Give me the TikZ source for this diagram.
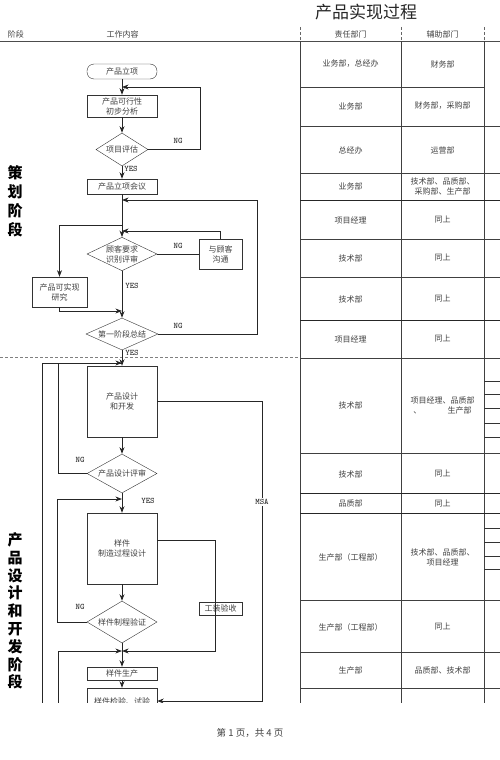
\documentclass[tikz,border=0pt]{standalone}
\usepackage{fontspec}
\newfontfamily\cjk{Noto Sans CJK SC}
\usetikzlibrary{shapes.geometric,arrows.meta}

\tikzset{
  flowbox/.style={draw=black!80, minimum width=70pt, minimum height=15pt, inner sep=1pt, align=center},
  decision/.style={draw=black!80, diamond, aspect=2, inner sep=0pt, align=center},
  lbl/.style={font=\ttfamily\bfseries\fontsize{8.5}{9}\selectfont, text=black!80, inner sep=1pt},
  cell/.style={align=center, font=\cjk\fontsize{8}{10}\selectfont},
  flow/.style={draw=black!85, line width=0.8pt},
}

\begin{document}
\begin{tikzpicture}[x=1pt, y=-1pt, >=Stealth, every node/.style={font=\cjk\fontsize{8}{10}\selectfont, text=black!75}]
  \useasboundingbox (0,0) rectangle (500,760);

  % title and header
  \node[font=\cjk\fontsize{17}{18}\selectfont, text=black!85] (title) at (366,12.5) {产品实现过程};
  \node (hstage) at (16,34) {阶段};
  \node (hwork) at (122.5,34) {工作内容};
  \node (hresp) at (350.5,34) {责任部门};
  \node (hhelp) at (442.5,34) {辅助部门};
  \node[font=\cjk\bfseries\fontsize{15}{19}\selectfont, text=black, align=center] (plan) at (15,201) {策\\划\\阶\\段};
  \node[font=\cjk\bfseries\fontsize{15}{17.8}\selectfont, text=black, align=center] (dev) at (15,611) {产\\品\\设\\计\\和\\开\\发\\阶\\段};

  \begin{scope}
  \clip (0,0) rectangle (500,702);

  % table
  \draw[black!70] (0,41) -- (500,41);
  \foreach \x in {300,401,484} {
    \draw[black!60, densely dashed] (\x,27) -- (\x,41);
    \draw[black!75] (\x,41) -- (\x,705);
  }
  \draw[black!75] (300,86.7) -- (484,86.7);
  \foreach \y in {125.7,173,239,277,358,453,600,652,688}
    \draw[black!75] (300,\y) -- (500,\y);
  \foreach \y in {200,320,493,513}
    \draw[black!85, line width=1pt] (300,\y) -- (500,\y);
  \foreach \y in {380.7,394.3,408.3,422.7,436.7,527.7,541.7,555.7,569.3}
    \draw[black!80] (484,\y) -- (500,\y);
  \draw[black!50, densely dashed] (0,357) -- (300,357);

  \foreach \y/\a/\b in {64/{业务部，总经办}/{财务部},
                        106/{业务部}/{财务部，采购部},
                        150/{总经办}/{运营部},
                        186.5/{业务部}/{技术部、品质部、\\采购部、生产部},
                        220/{项目经理}/{同上},
                        258/{技术部}/{同上},
                        299/{技术部}/{同上},
                        339/{项目经理}/{同上},
                        405/{技术部}/{项目经理、品质部\\、\hspace{3.3em}生产部},
                        474/{技术部}/{同上},
                        503.5/{品质部}/{同上},
                        557/{生产部（工程部）}/{技术部、品质部、\\项目经理},
                        627/{生产部（工程部）}/{同上},
                        670/{生产部}/{品质部、技术部}} {
    \node[cell] at (350.5,\y) {\a};
    \node[cell] at (442.5,\y) {\b};
  }

  % flow chart
  \node[flowbox, rounded corners=7pt] (start) at (122,71.5) {产品立项};
  \node[flowbox, minimum height=22pt] (feas) at (122,106) {产品可行性\\初步分析};
  \node[decision, minimum width=52pt, minimum height=33pt] (eval) at (122,149.5) {项目评估};
  \node[flowbox] (meet) at (122,186.5) {产品立项会议};
  \node[decision, minimum width=70pt, minimum height=32pt] (cust) at (122,254) {顾客要求\\识别评审};
  \node[flowbox, minimum width=43pt, minimum height=30pt] (talk) at (220.5,254) {与顾客\\沟通};
  \node[flowbox, minimum width=55pt, minimum height=30pt] (study) at (59.5,292) {产品可实现\\研究};
  \node[decision, minimum width=72pt, minimum height=32pt] (sum) at (122,334) {第一阶段总结};
  \node[flowbox, minimum height=71pt] (design) at (122,401.5) {产品设计\\和开发};
  \node[decision, minimum width=70pt, minimum height=39pt] (drev) at (122,473.5) {产品设计评审};
  \node[flowbox, minimum height=71pt] (sdes) at (122,548.5) {样件\\制造过程设计};
  \node[decision, minimum width=70pt, minimum height=42pt] (pver) at (122,622) {样件制程验证};
  \node[flowbox, minimum height=13pt] (sprod) at (122,673.5) {样件生产};
  \node[flowbox, minimum height=26pt] (check) at (122,701) {样件检验、试验};
  \node[flowbox, minimum width=43pt, minimum height=13pt] (tool) at (220.5,608.5) {工装验收};

  \coordinate (j1) at (122,87);
  \coordinate (j2) at (122,200);
  \coordinate (j3) at (122,225);
  \coordinate (j4) at (122,231);
  \coordinate (j5) at (122,311);
  \coordinate (j6) at (122,363);
  \coordinate (j7) at (122,499);
  \coordinate (j8) at (122,651);
  \coordinate (e1) at (42,710);
  \coordinate (e2) at (58,710);

  \draw[flow, ->] (start) -- (feas);
  \draw[flow, ->] (feas) -- (eval);
  \draw[flow, ->] (eval.east) -- ++(52,0) |- (j1);
  \draw[flow, ->] (eval) -- (meet);
  \draw[flow, ->] (meet) -- (cust);
  \draw[flow] (cust) -- (talk);
  \draw[flow, ->] (talk) |- (j4);
  \draw[flow, ->] (j3) -| (study);
  \draw[flow, ->] (study) |- (j5);
  \draw[flow, ->] (cust) -- (sum);
  \draw[flow, ->] (sum.east) -- ++(99,0) |- (j2);
  \draw[flow, ->] (sum) -- (design);
  \draw[flow, ->] (e1) |- (j6);
  \draw[flow] (drev.west) -- ++(-28,0) |- (j6);
  \draw[flow, ->] (design) -- (drev);
  \draw[flow, ->] (design.east) -- ++(105,0) |- (check);
  \draw[flow, ->] (drev) -- (sdes);
  \draw[flow, ->] (pver.west) -- ++(-29,0) |- (j7);
  \draw[flow, ->] ([yshift=8.5pt]sdes.east) -- ++(58,0) |- (j8);
  \draw[flow, ->] (sdes) -- (pver);
  \draw[flow, ->] (pver) -- (sprod);
  \draw[flow, ->] (e2) |- (j8);
  \draw[flow, ->] (sprod) -- (check);

  \node[lbl] (ng1) at (178,141) {NG};
  \node[lbl] (yes1) at (131,169) {YES};
  \node[lbl] (ng2) at (178,246) {NG};
  \node[lbl] (yes2) at (132,286) {YES};
  \node[lbl] (ng3) at (178,326) {NG};
  \node[lbl] (yes3) at (132,353) {YES};
  \node[lbl] (ng4) at (80,460) {NG};
  \node[lbl] (yes4) at (148,501) {YES};
  \node[lbl, fill=white] (msa) at (262,502) {MSA};
  \node[lbl] (ng5) at (80,607) {NG};
  \end{scope}

  \node[font=\cjk\fontsize{9.5}{11}\selectfont] (foot) at (250,733) {第\ 1\ 页，共\ 4\ 页};
\end{tikzpicture}
\end{document}
